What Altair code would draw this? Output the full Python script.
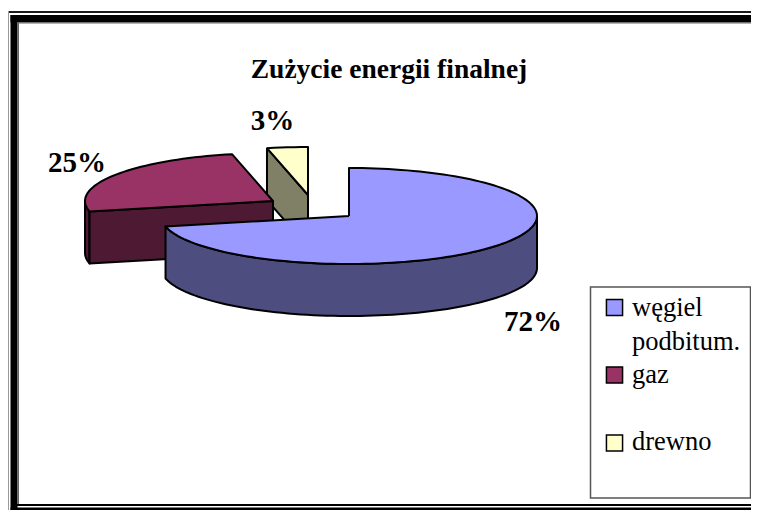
import math
import altair as alt
import pandas as pd

# Chart values
categories = ["węgiel podbitum.", "gaz", "drewno"]
shares = [71.5, 25.0, 3.5]
share_labels = ["72%", "25%", "3%"]
top_colors = ["#9999ff", "#993366", "#ffffcc"]
wall_colors = ["#4d4d80", "#4d1933", "#808066"]
legend_lines = ["węgiel", "podbitum.", "gaz", "drewno"]

# Layout (screen pixels)
W, H = 743, 502
OX, OY = 8, 8
RX, RY, DEPTH = 188, 48, 52
APEX = [(349, 216), (273, 201), (308, 195)]
FONT = "Liberation Serif"

X = alt.X("x:Q", scale=alt.Scale(domain=[OX, OX + W], nice=False, zero=False), axis=None)
Y = alt.Y("y:Q", scale=alt.Scale(domain=[OY + H, OY], nice=False, zero=False), axis=None)


def rim(apex, deg, drop=0):
    a = math.radians(deg)
    return (apex[0] + RX * math.sin(a), apex[1] - RY * math.cos(a) + drop)


def arc(apex, a0, a1, drop=0):
    n = max(2, int(abs(a1 - a0) / 2) + 1)
    return [rim(apex, a0 + (a1 - a0) * k / (n - 1), drop) for k in range(n)]


def poly(points, fill, width=2.0):
    pts = list(points) + [points[0]]
    df = pd.DataFrame({"x": [p[0] for p in pts], "y": [p[1] for p in pts], "i": range(len(pts))})
    return alt.Chart(df).mark_line(
        fill=fill, stroke="black", strokeWidth=width, strokeJoin="round", clip=False
    ).encode(x=X, y=Y, order=alt.Order("i:Q"))


def band(x0, x1, y0, y1, color):
    df = pd.DataFrame({"x": [x0], "x2": [x1], "y": [y0], "y2": [y1]})
    return alt.Chart(df).mark_rect(color=color).encode(x=X, x2="x2:Q", y=Y, y2="y2:Q")


def label(text, x, y, size, bold=True, align="center", baseline="middle"):
    df = pd.DataFrame({"x": [x], "y": [y], "t": [text]})
    return alt.Chart(df).mark_text(
        font=FONT, fontSize=size, fontWeight="bold" if bold else "normal",
        align=align, baseline=baseline, color="black",
    ).encode(x=X, y=Y, text="t:N")


# Slice angles, clockwise from twelve o'clock
edges = [0]
for s in shares:
    edges.append(edges[-1] + s * 3.6)

layers = []
XR = OX + W

# Frame
layers += [
    band(8, XR, 11, 13, "#1a1a1a"),
    band(8, 9, 11, 510, "#9a9a9a"),
    band(10.5, 17.5, 15, 510, "#000000"),
    band(10.5, XR, 15, 22.5, "#000000"),
    band(17.5, 19, 22.5, 504, "#666666"),
    band(17.5, XR, 22.5, 23.5, "#666666"),
    band(17, XR, 504, 506, "#000000"),
    band(10.5, XR, 507.5, 510, "#000000"),
]

# Wood
a = APEX[2]
s0, s1 = edges[2], edges[3]
p = rim(a, s0)
layers.append(poly([p, a, (a[0], a[1] + DEPTH), (p[0], p[1] + DEPTH)], wall_colors[2]))
layers.append(poly([a] + arc(a, s0, s1), top_colors[2]))

# Gas
a = APEX[1]
s0, s1 = edges[1], edges[2]
p = rim(a, s0)
layers.append(poly(arc(a, s0, 270) + arc(a, 270, s0, DEPTH), wall_colors[1]))
layers.append(poly([p, a, (a[0], a[1] + DEPTH), (p[0], p[1] + DEPTH)], wall_colors[1]))
layers.append(poly([a] + arc(a, s0, s1), top_colors[1]))

# Coal
a = APEX[0]
s0, s1 = edges[0], edges[1]
layers.append(poly(arc(a, 90, s1) + arc(a, s1, 90, DEPTH), wall_colors[0]))
layers.append(poly([a] + arc(a, s0, s1), top_colors[0]))

# Title and value labels
layers += [
    label("Zużycie energii finalnej", 389, 70, 27.5),
    label(share_labels[2], 272.5, 121, 29),
    label(share_labels[1], 77, 163, 29),
    label(share_labels[0], 533, 322, 29),
]

# Legend
box = pd.DataFrame({"x": [590.5], "x2": [750.5], "y": [287], "y2": [498]})
layers.append(
    alt.Chart(box).mark_rect(fill="white", stroke="#555555", strokeWidth=1.5).encode(
        x=X, x2="x2:Q", y=Y, y2="y2:Q"
    )
)
swatches = pd.DataFrame({"x": [614.5, 614.5, 614.5], "y": [307.5, 375, 443], "c": categories})
layers.append(
    alt.Chart(swatches).mark_point(
        shape="square", filled=True, size=260, stroke="black", strokeWidth=1.5, opacity=1
    ).encode(
        x=X, y=Y,
        fill=alt.Color("c:N", scale=alt.Scale(domain=categories, range=top_colors), legend=None),
    )
)
for text, base in zip(legend_lines, [316, 350, 383, 450]):
    layers.append(label(text, 632, base, 26.5, bold=False, align="left", baseline="alphabetic"))

chart = alt.layer(*layers).properties(
    width=W, height=H, padding=0,
    autosize=alt.AutoSizeParams(type="none"),
    background="white",
).configure_view(stroke=None)

chart.save("out.html", embed_options={"renderer": "svg", "actions": False})
